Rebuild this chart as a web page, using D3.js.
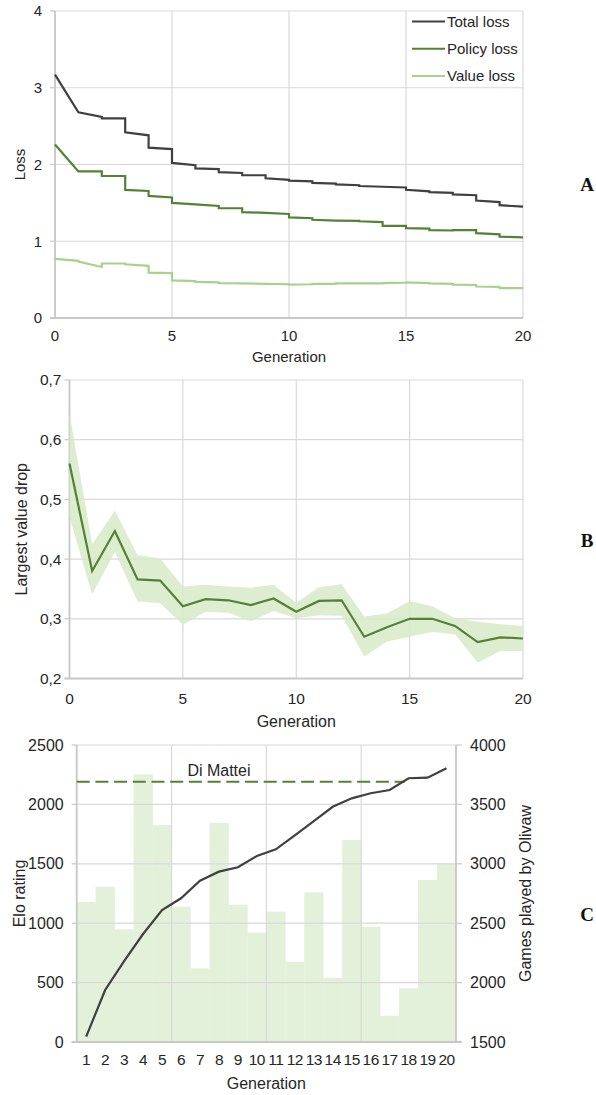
<!DOCTYPE html>
<html>
<head>
<meta charset="utf-8">
<script src="https://cdn.jsdelivr.net/npm/d3@7"></script>
<style>
  html, body { margin: 0; padding: 0; background: #fff; }
  svg text { font-family: "Liberation Sans", Arial, sans-serif; fill: #262626; }
</style>
</head>
<body>
<svg id="chart" width="596" height="1095"></svg>
<script>
// ---------------- DATA ----------------
// Panel A: loss per generation interval (value at start and at end of each interval)
const lossGenTicks = [0, 5, 10, 15, 20];
const lossYTicks = [0, 1, 2, 3, 4];
const totalStart  = [3.17, 2.68, 2.60, 2.42, 2.22, 2.02, 1.95, 1.90, 1.86, 1.82, 1.79, 1.76, 1.74, 1.72, 1.71, 1.67, 1.64, 1.61, 1.53, 1.47];
const totalEnd    = [2.68, 2.62, 2.60, 2.38, 2.20, 1.99, 1.94, 1.89, 1.86, 1.80, 1.78, 1.75, 1.73, 1.71, 1.70, 1.65, 1.63, 1.60, 1.51, 1.45];
const policyStart = [2.26, 1.91, 1.85, 1.67, 1.59, 1.50, 1.48, 1.43, 1.38, 1.37, 1.31, 1.28, 1.27, 1.26, 1.20, 1.17, 1.145, 1.145, 1.105, 1.06];
const policyEnd   = [1.91, 1.91, 1.85, 1.655, 1.57, 1.48, 1.46, 1.43, 1.37, 1.355, 1.30, 1.27, 1.265, 1.25, 1.20, 1.165, 1.14, 1.145, 1.09, 1.05];
const valueStart  = [0.77, 0.735, 0.71, 0.70, 0.59, 0.49, 0.47, 0.455, 0.45, 0.445, 0.435, 0.445, 0.45, 0.45, 0.455, 0.465, 0.45, 0.435, 0.41, 0.39];
const valueEnd    = [0.745, 0.665, 0.71, 0.68, 0.585, 0.48, 0.465, 0.45, 0.445, 0.44, 0.44, 0.445, 0.45, 0.45, 0.46, 0.455, 0.445, 0.43, 0.405, 0.39];
const lossSeriesNames = ["Total loss", "Policy loss", "Value loss"];

// Panel B: largest value drop per generation (mean with band)
const dropGenerations = [0,1,2,3,4,5,6,7,8,9,10,11,12,13,14,15,16,17,18,19,20];
const dropMean  = [0.560, 0.380, 0.447, 0.366, 0.364, 0.321, 0.333, 0.331, 0.323, 0.334, 0.312, 0.330, 0.331, 0.270, 0.286, 0.300, 0.300, 0.288, 0.261, 0.269, 0.267];
const dropUpper = [0.644, 0.425, 0.481, 0.407, 0.401, 0.354, 0.357, 0.354, 0.352, 0.357, 0.327, 0.353, 0.358, 0.304, 0.309, 0.330, 0.321, 0.301, 0.295, 0.291, 0.288];
const dropLower = [0.470, 0.341, 0.412, 0.329, 0.326, 0.290, 0.312, 0.310, 0.296, 0.313, 0.301, 0.306, 0.305, 0.237, 0.262, 0.270, 0.278, 0.274, 0.227, 0.246, 0.246];
const dropYTicks = [0.2, 0.3, 0.4, 0.5, 0.6, 0.7];
const dropYTickLabels = ["0,2", "0,3", "0,4", "0,5", "0,6", "0,7"];
const dropGenTicks = [0, 5, 10, 15, 20];

// Panel C: Elo rating and games played
const eloGenerations = ["1","2","3","4","5","6","7","8","9","10","11","12","13","14","15","16","17","18","19","20"];
const eloRating   = [45, 438, 680, 909, 1111, 1210, 1358, 1434, 1471, 1566, 1622, 1740, 1859, 1980, 2051, 2094, 2121, 2220, 2225, 2304];
const gamesPlayed = [2678, 2807, 2449, 3753, 3327, 2639, 2120, 3343, 2656, 2420, 2597, 2176, 2760, 2041, 3200, 2471, 1721, 1952, 2864, 3004];
const diMatteiElo = 2190;
const eloTicks   = [0, 500, 1000, 1500, 2000, 2500];
const gamesTicks = [1500, 2000, 2500, 3000, 3500, 4000];

// ---------------- STYLE ----------------
const C_TOTAL = "#404040", C_POLICY = "#548235", C_VALUE = "#a9d18e";
const C_BAND = "#d6eac8", C_BAR = "#e3f0da", C_GRID = "#d9d9d9", C_AXIS = "#c8c8c8";

const svg = d3.select("#chart");

function panelLabel(txt, x, y) {
  svg.append("text").attr("x", x).attr("y", y).attr("text-anchor", "middle")
    .style("font-family", "'Liberation Serif', 'DejaVu Serif', serif")
    .style("font-weight", "bold").style("font-size", "19px").style("fill", "#111").text(txt);
}

// ================= PANEL A =================
{
  const x = d3.scaleLinear().domain([0, 20]).range([55, 523]);
  const y = d3.scaleLinear().domain([0, 4]).range([318, 11]);
  const g = svg.append("g");
  // grid
  g.selectAll(".hg").data(lossYTicks).join("line")
    .attr("x1", x(0)).attr("x2", x(20)).attr("y1", d => y(d)).attr("y2", d => y(d))
    .attr("stroke", C_GRID).attr("stroke-width", 1.2);
  g.selectAll(".vg").data(lossGenTicks).join("line")
    .attr("x1", d => x(d)).attr("x2", d => x(d)).attr("y1", y(0)).attr("y2", y(4))
    .attr("stroke", C_GRID).attr("stroke-width", 1.2);
  // axes lines
  g.append("line").attr("x1", x(0)).attr("x2", x(0)).attr("y1", y(0)).attr("y2", y(4)).attr("stroke", C_AXIS).attr("stroke-width", 1.8);
  g.append("line").attr("x1", x(0) - 5).attr("x2", x(20)).attr("y1", y(0)).attr("y2", y(0)).attr("stroke", C_AXIS).attr("stroke-width", 1.8);
  g.selectAll(".yt").data(lossYTicks).join("line")
    .attr("x1", x(0) - 5).attr("x2", x(0)).attr("y1", d => y(d)).attr("y2", d => y(d)).attr("stroke", C_AXIS).attr("stroke-width", 1.2);
  g.selectAll(".ytl").data(lossYTicks).join("text")
    .attr("x", x(0) - 13).attr("y", d => y(d)).attr("dy", "0.35em").attr("text-anchor", "end")
    .style("font-size", "15px").text(d => d);
  g.selectAll(".xtl").data(lossGenTicks).join("text")
    .attr("x", d => x(d)).attr("y", 341).attr("text-anchor", "middle")
    .style("font-size", "15px").text(d => d);
  g.append("text").attr("x", (x(0) + x(20)) / 2).attr("y", 362).attr("text-anchor", "middle")
    .style("font-size", "15px").text("Generation");
  g.append("text").attr("transform", `translate(25,${(y(0) + y(4)) / 2}) rotate(-90)`)
    .attr("text-anchor", "middle").style("font-size", "15px").text("Loss");

  function stepPts(s, e) {
    const pts = [];
    s.forEach((v, i) => { pts.push([i, v]); pts.push([i + 1, e[i]]); });
    return pts;
  }
  const line = d3.line().x(d => x(d[0])).y(d => y(d[1]));
  const series = [
    { pts: stepPts(valueStart, valueEnd), c: C_VALUE },
    { pts: stepPts(policyStart, policyEnd), c: C_POLICY },
    { pts: stepPts(totalStart, totalEnd), c: C_TOTAL }
  ];
  series.forEach(s => g.append("path").attr("d", line(s.pts)).attr("fill", "none")
    .attr("stroke", s.c).attr("stroke-width", 2.2).attr("stroke-linejoin", "miter"));

  // legend
  const legColors = [C_TOTAL, C_POLICY, C_VALUE];
  const ly = d3.scalePoint().domain(lossSeriesNames).range([21.5, 76]);
  lossSeriesNames.forEach((n, i) => {
    g.append("line").attr("x1", 412).attr("x2", 445).attr("y1", ly(n)).attr("y2", ly(n))
      .attr("stroke", legColors[i]).attr("stroke-width", 2.2);
    g.append("text").attr("x", 447).attr("y", ly(n)).attr("dy", "0.35em")
      .style("font-size", "15px").text(n);
  });
  panelLabel("A", 587, 191);
}

// ================= PANEL B =================
{
  const x = d3.scaleLinear().domain([0, 20]).range([69.5, 523]);
  const y = d3.scaleLinear().domain([0.2, 0.7]).range([678.5, 380]);
  const g = svg.append("g");
  g.selectAll(".hg").data(dropYTicks).join("line")
    .attr("x1", x(0)).attr("x2", x(20)).attr("y1", d => y(d)).attr("y2", d => y(d))
    .attr("stroke", C_GRID).attr("stroke-width", 1.2);
  g.selectAll(".vg").data(dropGenTicks).join("line")
    .attr("x1", d => x(d)).attr("x2", d => x(d)).attr("y1", y(0.2)).attr("y2", y(0.7))
    .attr("stroke", C_GRID).attr("stroke-width", 1.2);
  g.append("line").attr("x1", x(0)).attr("x2", x(0)).attr("y1", y(0.2)).attr("y2", y(0.7)).attr("stroke", C_AXIS).attr("stroke-width", 1.8);
  g.append("line").attr("x1", x(0) - 5).attr("x2", x(20)).attr("y1", y(0.2)).attr("y2", y(0.2)).attr("stroke", C_AXIS).attr("stroke-width", 1.8);
  g.selectAll(".yt").data(dropYTicks).join("line")
    .attr("x1", x(0) - 5).attr("x2", x(0)).attr("y1", d => y(d)).attr("y2", d => y(d)).attr("stroke", C_AXIS).attr("stroke-width", 1.2);

  const area = d3.area().x((d, i) => x(dropGenerations[i])).y0((d, i) => y(dropLower[i])).y1((d, i) => y(dropUpper[i]));
  g.append("path").attr("d", area(dropMean)).attr("fill", C_BAND).attr("fill-opacity", 0.85);
  const line = d3.line().x((d, i) => x(dropGenerations[i])).y(d => y(d));
  g.append("path").attr("d", line(dropMean)).attr("fill", "none").attr("stroke", C_POLICY).attr("stroke-width", 2.2);

  g.selectAll(".ytl").data(dropYTicks).join("text")
    .attr("x", x(0) - 8).attr("y", d => y(d)).attr("dy", "0.35em").attr("text-anchor", "end")
    .style("font-size", "15.5px").text((d, i) => dropYTickLabels[i]);
  g.selectAll(".xtl").data(dropGenTicks).join("text")
    .attr("x", d => x(d)).attr("y", 704).attr("text-anchor", "middle")
    .style("font-size", "15.5px").text(d => d);
  g.append("text").attr("x", (x(0) + x(20)) / 2).attr("y", 727).attr("text-anchor", "middle")
    .style("font-size", "16px").text("Generation");
  g.append("text").attr("transform", `translate(27,${(y(0.2) + y(0.7)) / 2}) rotate(-90)`)
    .attr("text-anchor", "middle").style("font-size", "16px").text("Largest value drop");
  panelLabel("B", 587, 547);
}

// ================= PANEL C =================
{
  const x = d3.scaleBand().domain(eloGenerations).range([76.7, 456]).padding(0);
  const yE = d3.scaleLinear().domain([0, 2500]).range([1042, 745]);
  const yG = d3.scaleLinear().domain([1500, 4000]).range([1042, 745]);
  const bw = x.bandwidth();
  const g = svg.append("g");
  // bars
  g.selectAll(".bar").data(gamesPlayed).join("rect")
    .attr("x", (d, i) => x(eloGenerations[i])).attr("width", bw + 0.3)
    .attr("y", d => yG(d)).attr("height", d => yG(1500) - yG(d)).attr("fill", C_BAR);
  // grid
  g.selectAll(".hg").data(eloTicks).join("line")
    .attr("x1", x.range()[0]).attr("x2", x.range()[1]).attr("y1", d => yE(d)).attr("y2", d => yE(d))
    .attr("stroke", C_GRID).attr("stroke-width", 1.2);
  const vgCats = ["6", "11", "16"];
  g.selectAll(".vg").data(vgCats).join("line")
    .attr("x1", d => x(d)).attr("x2", d => x(d)).attr("y1", yE(0)).attr("y2", yE(2500))
    .attr("stroke", C_GRID).attr("stroke-width", 1.2);
  // axes
  g.append("line").attr("x1", x.range()[0]).attr("x2", x.range()[0]).attr("y1", yE(0)).attr("y2", yE(2500)).attr("stroke", C_AXIS).attr("stroke-width", 1.8);
  g.append("line").attr("x1", x.range()[1]).attr("x2", x.range()[1]).attr("y1", yE(0)).attr("y2", yE(2500)).attr("stroke", C_AXIS).attr("stroke-width", 1.8);
  g.append("line").attr("x1", x.range()[0] - 5).attr("x2", x.range()[1] + 6).attr("y1", yE(0)).attr("y2", yE(0)).attr("stroke", C_AXIS).attr("stroke-width", 1.8);
  g.selectAll(".ylt").data(eloTicks).join("line")
    .attr("x1", x.range()[0] - 5).attr("x2", x.range()[0]).attr("y1", d => yE(d)).attr("y2", d => yE(d)).attr("stroke", C_AXIS).attr("stroke-width", 1.2);
  g.selectAll(".yrt").data(gamesTicks).join("line")
    .attr("x1", x.range()[1]).attr("x2", x.range()[1] + 6).attr("y1", d => yG(d)).attr("y2", d => yG(d)).attr("stroke", C_AXIS).attr("stroke-width", 1.2);

  // Di Mattei dashed line
  g.append("line").attr("x1", x.range()[0]).attr("x2", x("18") + bw * 0.3)
    .attr("y1", yE(diMatteiElo)).attr("y2", yE(diMatteiElo))
    .attr("stroke", C_POLICY).attr("stroke-width", 2).attr("stroke-dasharray", "13,5.7");
  g.append("text").attr("x", x("8") + bw / 2).attr("y", yE(diMatteiElo) - 6).attr("text-anchor", "middle")
    .style("font-size", "16px").text("Di Mattei");

  // Elo line
  const line = d3.line().x((d, i) => x(eloGenerations[i]) + bw / 2).y(d => yE(d));
  g.append("path").attr("d", line(eloRating)).attr("fill", "none").attr("stroke", C_TOTAL).attr("stroke-width", 2.2);

  // labels
  g.selectAll(".yl").data(eloTicks).join("text")
    .attr("x", x.range()[0] - 13).attr("y", d => yE(d)).attr("dy", "0.35em").attr("text-anchor", "end")
    .style("font-size", "16px").text(d => d);
  g.selectAll(".yr").data(gamesTicks).join("text")
    .attr("x", x.range()[1] + 14).attr("y", d => yG(d)).attr("dy", "0.35em").attr("text-anchor", "start")
    .style("font-size", "16px").text(d => d);
  g.selectAll(".xl").data(eloGenerations).join("text")
    .attr("x", d => x(d) + bw / 2).attr("y", 1065).attr("text-anchor", "middle")
    .style("font-size", "15.5px").style("letter-spacing", "-0.5px").text(d => d);
  g.append("text").attr("x", (x.range()[0] + x.range()[1]) / 2).attr("y", 1089).attr("text-anchor", "middle")
    .style("font-size", "16px").text("Generation");
  g.append("text").attr("transform", `translate(25,${(yE(0) + yE(2500)) / 2}) rotate(-90)`)
    .attr("text-anchor", "middle").style("font-size", "16px").text("Elo rating");
  g.append("text").attr("transform", `translate(531,${(yE(0) + yE(2500)) / 2}) rotate(-90)`)
    .attr("text-anchor", "middle").style("font-size", "16px").text("Games played by Olivaw");
  panelLabel("C", 587, 921);
}
</script>
</body>
</html>
